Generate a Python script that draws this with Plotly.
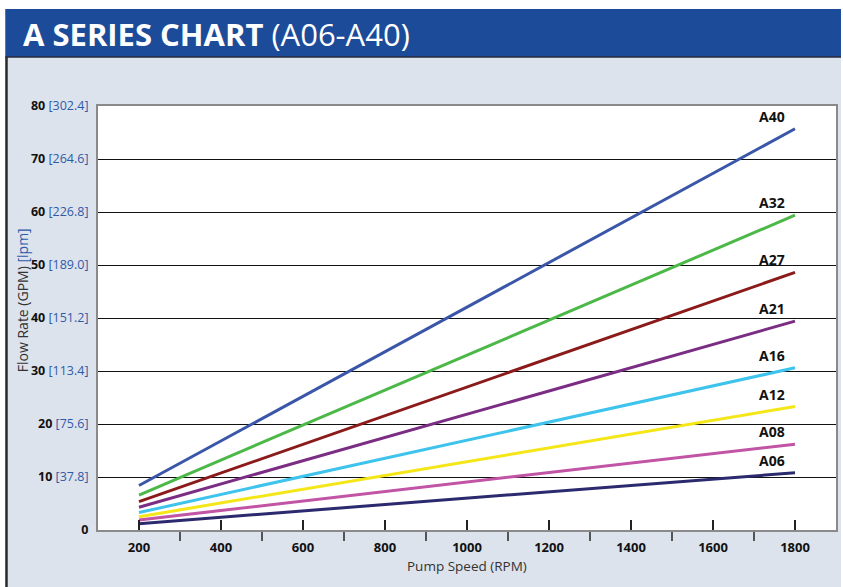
import plotly.graph_objects as go

rpm = [200, 1800]
series_names = ["A40", "A32", "A27", "A21", "A16", "A12", "A08", "A06"]
series_values = {
    "A40": [8.4, 75.7],
    "A32": [6.6, 59.4],
    "A27": [5.35, 48.6],
    "A21": [4.3, 39.4],
    "A16": [3.3, 30.6],
    "A12": [2.5, 23.3],
    "A08": [1.9, 16.2],
    "A06": [1.2, 10.8],
}
colors = {
    "A40": "#3a56a8", "A32": "#4cb848", "A27": "#8b1a1a", "A21": "#7b2d84",
    "A16": "#3ec3ec", "A12": "#f5e617", "A08": "#c154a4", "A06": "#2b2a6e",
}
gpm_ticks = [0, 10, 20, 30, 40, 50, 60, 70, 80]
lpm_ticks = ["", "37.8", "75.6", "113.4", "151.2", "189.0", "226.8", "264.6", "302.4"]
x_ticks = [200, 400, 600, 800, 1000, 1200, 1400, 1600, 1800]
x_minor = [300, 500, 700, 900, 1100, 1300, 1500, 1700]

TICKFONT = "Liberation Sans Narrow, Arial Narrow, Open Sans, sans-serif"
BLUE_TXT = "#2f5aa8"

fig = go.Figure()
for name in reversed(series_names):
    fig.add_trace(go.Scatter(x=rpm, y=series_values[name], mode="lines",
                             line=dict(color=colors[name], width=3),
                             name=name, showlegend=False, hoverinfo="skip"))
    fig.add_annotation(x=rpm[-1], y=series_values[name][-1], text="<b>" + name + "</b>",
                       xanchor="right", yanchor="bottom", xshift=-8, yshift=1,
                       showarrow=False, font=dict(family="Open Sans, sans-serif", size=14, color="#111"))

ytext = []
for g, l in zip(gpm_ticks, lpm_ticks):
    if l:
        ytext.append(f"<b>{g}</b> <span style='color:{BLUE_TXT}'>[{l}]</span>")
    else:
        ytext.append(f"<b>{g}</b>")

W, H = 843, 587
L, R, T, B = 98, 5, 106, 57
pw, ph = W - L - R, H - T - B

def px(x):
    return (x - L) / pw

def py(y):
    return (H - B - y) / ph

shapes = [
    dict(type="rect", xref="paper", yref="paper", x0=px(5), x1=px(843), y0=py(587), y1=py(57),
         fillcolor="#dde3ec", line=dict(width=0), layer="below"),
    dict(type="rect", xref="paper", yref="paper", x0=px(5), x1=px(843), y0=py(57), y1=py(9),
         fillcolor="#1c4b9a", line=dict(width=0), layer="below"),
    dict(type="rect", xref="paper", yref="paper", x0=px(5), x1=px(7.5), y0=py(587), y1=py(57),
         fillcolor="#2a2a2a", line=dict(width=0), layer="below"),
    dict(type="line", xref="paper", yref="paper", x0=px(5), x1=px(843), y0=py(57), y1=py(57),
         line=dict(color="#2a2a3a", width=1.5), layer="below"),
    dict(type="rect", xref="paper", yref="paper", x0=0, x1=1, y0=0, y1=1,
         fillcolor="white", line=dict(width=0), layer="below"),
]

fig.update_layout(
    width=W, height=H,
    margin=dict(l=L, r=R, t=T, b=B),
    paper_bgcolor="white",
    plot_bgcolor="rgba(0,0,0,0)",
    shapes=shapes,
    xaxis=dict(range=[100, 1900], tickvals=x_ticks, ticktext=[f"<b>{v}</b>" for v in x_ticks],
               ticks="inside", ticklen=10, tickwidth=1.5, tickcolor="#222",
               minor=dict(tickvals=x_minor, ticks="outside", ticklen=9, tickwidth=1.5, tickcolor="#555"),
               showgrid=False, zeroline=False, showline=True, linecolor="#8a8a8a", linewidth=2,
               mirror=True, ticklabelstandoff=4,
               tickfont=dict(family=TICKFONT, size=13, color="#111")),
    yaxis=dict(range=[0, 80], tickvals=gpm_ticks, ticktext=ytext, ticks="",
               showgrid=True, gridcolor="#111", gridwidth=1, zeroline=False,
               showline=True, linecolor="#8a8a8a", linewidth=2, mirror=True,
               ticklabelstandoff=5,
               tickfont=dict(family=TICKFONT, size=12.5, color="#111")),
    annotations=list(fig.layout.annotations) + [
        dict(xref="paper", yref="paper", x=px(21), y=py(34), xanchor="left", yanchor="middle",
             text="<b>A SERIES CHART</b> (A06-A40)", showarrow=False,
             font=dict(family="Open Sans, sans-serif", size=31, color="white")),
        dict(xref="paper", yref="paper", x=px(22), y=py(300), xanchor="center", yanchor="middle",
             textangle=-90,
             text=f"Flow Rate (GPM) <span style='color:{BLUE_TXT}'>[lpm]</span>", showarrow=False,
             font=dict(family="Open Sans, sans-serif", size=14, color="#333")),
        dict(xref="paper", yref="paper", x=0.5, y=py(566), xanchor="center", yanchor="middle",
             text="Pump Speed (RPM)", showarrow=False,
             font=dict(family="Open Sans, sans-serif", size=13.5, color="#333")),
    ],
)

fig.write_html("out.html", config={"displayModeBar": False},
               post_script="document.body.style.margin='0';document.body.style.overflow='hidden';")
